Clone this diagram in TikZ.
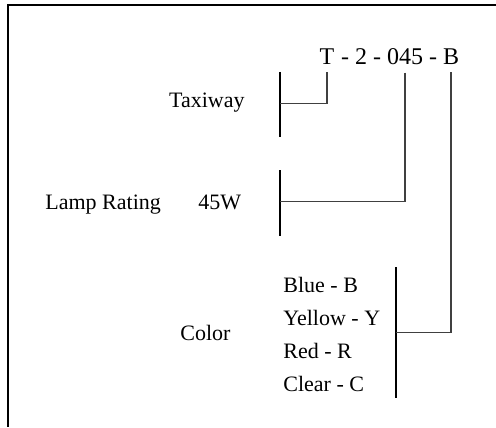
\documentclass[tikz,border=0pt]{standalone}
\usepackage{fontspec}
\setmainfont{Liberation Serif}
\usetikzlibrary{calc}
\begin{document}
\begin{tikzpicture}[x=0.5pt,y=-0.5pt,line cap=butt,line join=miter,
	txt/.style={inner sep=0pt,font=\fontsize{11}{13}\selectfont},
	code/.style={txt,font=\fontsize{12}{14}\selectfont,inner ysep=3.5pt,anchor=base},
	lbl/.style={txt,anchor=base west},
	bar/.style={line width=1.1pt},
	link/.style={draw=black!75,line width=0.6pt},
	frame/.style={line width=0.9pt}]
	
	\useasboundingbox (0,0) rectangle (496,427);
	\draw[frame] (496,5) -- (8,5) -- (8,427);
	
	% code
	\node[code] (cT) at (327,65) {T};
	\node[code] (cA) at (361,65) {- 2 -};
	\node[code] (c045) at (405,65) {045};
	\node[code] (cD) at (433,65) {-};
	\node[code] (cB) at (451,65) {B};
	
	% labels
	\node[txt,anchor=base east] (taxi) at (245,108) {Taxiway};
	\node[lbl] (lamp) at (45,209) {Lamp Rating};
	\node[lbl] (watt) at (198,209) {45W};
	\node[lbl] (color) at (180,340) {Color};
	\node[lbl] (blue) at (283,292) {Blue - B};
	\node[lbl] (yellow) at (283,325) {Yellow - Y};
	\node[lbl] (red) at (283,358) {Red - R};
	\node[lbl] (clear) at (283,391) {Clear - C};
	
	% bars
	\coordinate (txtop) at (280,72); \coordinate (txbot) at (280,137);
	\coordinate (lrtop) at (280,170); \coordinate (lrbot) at (280,236);
	\coordinate (cotop) at (396,267); \coordinate (cobot) at (396,398);
	\draw[bar] (txtop) -- (txbot);
	\draw[bar] (lrtop) -- (lrbot);
	\draw[bar] (cotop) -- (cobot);
	
	\draw[link] (cT.south) |- ($(txtop)!0.48!(txbot)$);
	\draw[link] (c045.south) |- ($(lrtop)!0.48!(lrbot)$);
	\draw[link] (cB.south) |- ($(cotop)!0.5!(cobot)$);
	
\end{tikzpicture}
\end{document}
